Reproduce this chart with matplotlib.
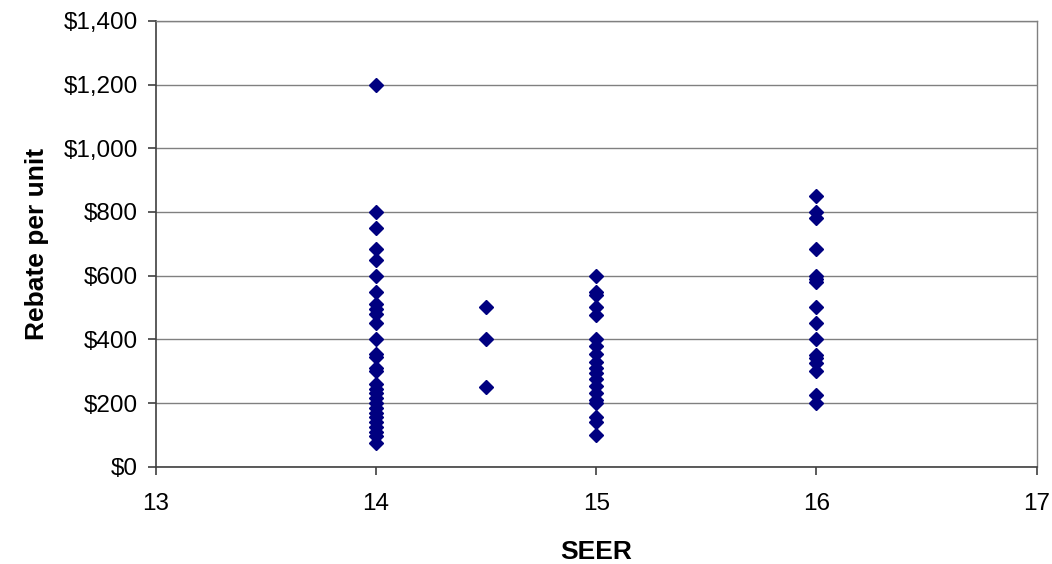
import matplotlib.pyplot as plt
import matplotlib.ticker as mtick

plt.rcParams['font.family'] = ['Liberation Sans', 'DejaVu Sans']

# rebate per unit, grouped by SEER rating
seer_14 = [1200, 800, 750, 685, 650, 600, 550, 510, 495, 480, 450, 400, 355, 345,
           310, 300, 260, 245, 230, 215, 200, 185, 170, 155, 140, 125, 110, 95, 75]
seer_14_5 = [500, 400, 250]
seer_15 = [600, 550, 540, 500, 475, 400, 380, 355, 330, 310, 295, 275, 255, 230,
           210, 200, 155, 140, 100]
seer_16 = [850, 800, 780, 685, 600, 590, 580, 500, 450, 400, 350, 340, 325, 300,
           225, 200]

seer = [14] * len(seer_14) + [14.5] * len(seer_14_5) + [15] * len(seer_15) + [16] * len(seer_16)
rebate = seer_14 + seer_14_5 + seer_15 + seer_16

fig = plt.figure(figsize=(10.52, 5.64), dpi=100)
ax = fig.add_axes([0.148, 0.1725, 0.8375, 0.7905])

ax.plot(seer, rebate, linestyle='none', marker='D', markersize=7.5,
        color='#000080', clip_on=False, zorder=3)

ax.set_xlim(13, 17)
ax.set_ylim(0, 1400)
ax.set_xticks([13, 14, 15, 16, 17])
ax.set_yticks(range(0, 1401, 200))
ax.yaxis.set_major_formatter(mtick.StrMethodFormatter('${x:,.0f}'))

ax.grid(axis='y', color='#808080', linewidth=1)
ax.set_axisbelow(True)
for side in ['top', 'right']:
    ax.spines[side].set_color('#808080')
    ax.spines[side].set_linewidth(1)
for side in ['left', 'bottom']:
    ax.spines[side].set_color('#404040')
    ax.spines[side].set_linewidth(1.2)

ax.tick_params(axis='both', labelsize=17.5, length=6, color='#404040', width=1.2)
ax.tick_params(axis='x', pad=13)
ax.tick_params(axis='y', pad=7)

ax.set_xlabel('SEER', fontsize=19, fontweight='bold', labelpad=18)
ax.set_ylabel('Rebate per unit', fontsize=19, fontweight='bold', labelpad=10)

fig.savefig('out.png', dpi=100)
